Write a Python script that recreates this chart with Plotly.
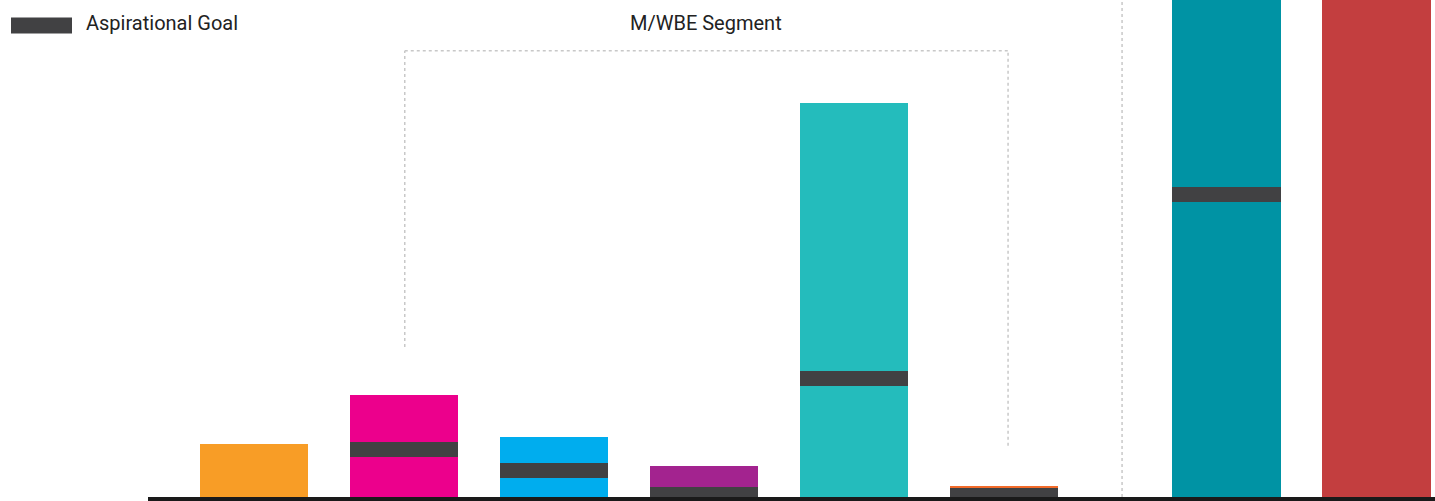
import plotly.graph_objects as go

# ---- data (arbitrary units; plot top = 100) ----
categories = ["Non-M/WBE", "MBE", "WBE", "MBE/WBE", "Segment E", "Segment F", "Total A", "Total B"]
values = [10.7, 20.5, 12.0, 6.2, 79.3, 2.2, 130.0, 140.0]
goals = [None, 9.5, 5.3, 0.56, 23.8, 0.25, 60.8, None]
group_offset = [0, 0, 0, 0, 0, 0, 0.483, 0.483]  # gap before the last two bars
bar_colors = ["#F89D26", "#EC008C", "#00ADEE", "#A3238F", "#24BCBC", "#F26B2A", "#0093A4", "#C33E3F"]

goal_label = "Aspirational Goal"
segment_label = "M/WBE Segment"
segment_start, segment_end = 1.005, 5.027   # bracket spans these category positions
segment_left_low, segment_right_low, segment_top = 30.2, 10.3, 89.8
divider_x = 5.787

GOAL_COLOR = "#414143"
GOAL_THICK = 3.0
BAR_W = 0.725

x_pos = [i + off for i, off in enumerate(group_offset)]

fig = go.Figure()
fig.add_trace(go.Bar(
    x=x_pos, y=values, width=BAR_W,
    marker=dict(color=bar_colors, line=dict(width=0)),
    hovertext=categories, hoverinfo="text+y", showlegend=False,
))

gx, gy, gb = [], [], []
for x, g in zip(x_pos, goals):
    if g is None:
        continue
    lo = max(g - GOAL_THICK / 2, 0)
    hi = g + GOAL_THICK / 2
    gx.append(x)
    gb.append(lo)
    gy.append(hi - lo)
fig.add_trace(go.Bar(
    x=gx, y=gy, base=gb, width=BAR_W,
    marker=dict(color=GOAL_COLOR, line=dict(width=0)),
    name=goal_label, showlegend=False, hoverinfo="skip",
))

dot = dict(color="#c8c8c8", width=1.5, dash="dot")
# bracket for segment
fig.add_shape(type="line", x0=segment_start, x1=segment_start, y0=segment_left_low, y1=segment_top,
              xref="x", yref="y", line=dot, layer="below")
fig.add_shape(type="line", x0=segment_start, x1=segment_end, y0=segment_top, y1=segment_top,
              xref="x", yref="y", line=dot, layer="below")
fig.add_shape(type="line", x0=segment_end, x1=segment_end, y0=segment_right_low, y1=segment_top,
              xref="x", yref="y", line=dot, layer="below")
# divider
fig.add_shape(type="line", x0=divider_x, x1=divider_x, y0=0, y1=1,
              xref="x", yref="paper", line=dot, layer="below")

PLOT_H = 497
PLOT_L = 148
PLOT_W = 1435 - PLOT_L


def px_x(px):
    return (px - PLOT_L) / PLOT_W


def px_y(py):
    return (PLOT_H - py) / PLOT_H


# legend swatch + label
fig.add_shape(type="rect", xref="paper", yref="paper",
              x0=px_x(11), x1=px_x(72), y0=px_y(33.5), y1=px_y(17.5),
              fillcolor=GOAL_COLOR, line=dict(width=0))
fig.add_annotation(text=goal_label, xref="paper", yref="paper",
                   x=px_x(84), y=px_y(23), xanchor="left", yanchor="middle",
                   showarrow=False, font=dict(family="Roboto", size=20, color="#222222"))
fig.add_annotation(text=segment_label, xref="paper", yref="paper",
                   x=px_x(706), y=px_y(23), xanchor="center", yanchor="middle",
                   showarrow=False, font=dict(family="Roboto", size=20, color="#222222"))

fig.update_layout(
    width=1435, height=501,
    margin=dict(l=PLOT_L, r=0, t=0, b=4, pad=0),
    paper_bgcolor="white", plot_bgcolor="white",
    barmode="overlay", bargap=0,
    xaxis=dict(range=[-0.7067, 7.8733], showline=True, linecolor="#1a1a1a", linewidth=4,
               showgrid=False, zeroline=False, showticklabels=False, ticks="", fixedrange=True),
    yaxis=dict(range=[0, 100], visible=False, showgrid=False, zeroline=False, fixedrange=True),
    font=dict(family="Roboto"),
)

fig.write_html("out.html")
